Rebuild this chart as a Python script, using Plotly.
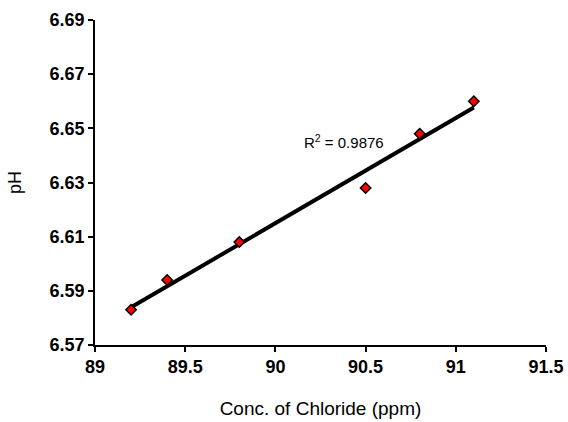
import numpy as np
import plotly.graph_objects as go

# Chloride concentration (ppm) vs measured pH
chloride_ppm = [89.2, 89.4, 89.8, 90.5, 90.8, 91.1]
ph_values = [6.583, 6.594, 6.608, 6.628, 6.648, 6.660]
r_squared = 0.9876

x_ticks = [89, 89.5, 90, 90.5, 91, 91.5]
y_ticks = [6.57, 6.59, 6.61, 6.63, 6.65, 6.67, 6.69]

# Linear least-squares trendline across the measured range
x = np.array(chloride_ppm)
y = np.array(ph_values)
slope, intercept = np.polyfit(x, y, 1)
trend_x = [x.min(), x.max()]
trend_y = [slope * v + intercept for v in trend_x]

FONT = "Liberation Sans, Arial, sans-serif"

fig = go.Figure()
fig.add_trace(go.Scatter(
    x=trend_x, y=trend_y, mode="lines",
    line=dict(color="black", width=4),
    hoverinfo="skip", showlegend=False,
))
fig.add_trace(go.Scatter(
    x=chloride_ppm, y=ph_values, mode="markers",
    marker=dict(symbol="diamond", size=8, color="#ff0000",
                line=dict(color="black", width=1.5)),
    showlegend=False,
))

fig.add_annotation(
    x=90.15, y=6.6453, xref="x", yref="y",
    text=f"R<sup>2</sup> = {r_squared:.4f}", showarrow=False,
    xanchor="left", yanchor="middle",
    font=dict(family=FONT, size=15, color="black"),
)

axis_common = dict(
    showline=True, linecolor="black", linewidth=1.5,
    ticks="outside", ticklen=5, tickwidth=1.5, tickcolor="black",
    showgrid=False, zeroline=False, mirror=False,
    tickfont=dict(family=FONT, size=18, color="black", weight="bold"),
)

fig.update_xaxes(
    range=[89, 91.5], tickvals=x_ticks, ticktext=[f"{v:g}" for v in x_ticks],
    title=dict(text="Conc. of Chloride (ppm)", standoff=25,
               font=dict(family=FONT, size=19, color="black")),
    automargin=False, **axis_common,
)
fig.update_yaxes(
    range=[6.57, 6.69], tickvals=y_ticks, ticktext=[f"{v:.2f}" for v in y_ticks],
    title=dict(text="pH", standoff=23,
               font=dict(family=FONT, size=18, color="black")),
    automargin=False, **axis_common,
)

fig.update_layout(
    width=568, height=422,
    margin=dict(l=95, r=22, t=20, b=77),
    paper_bgcolor="white", plot_bgcolor="white",
)

fig.write_html("out.html")
